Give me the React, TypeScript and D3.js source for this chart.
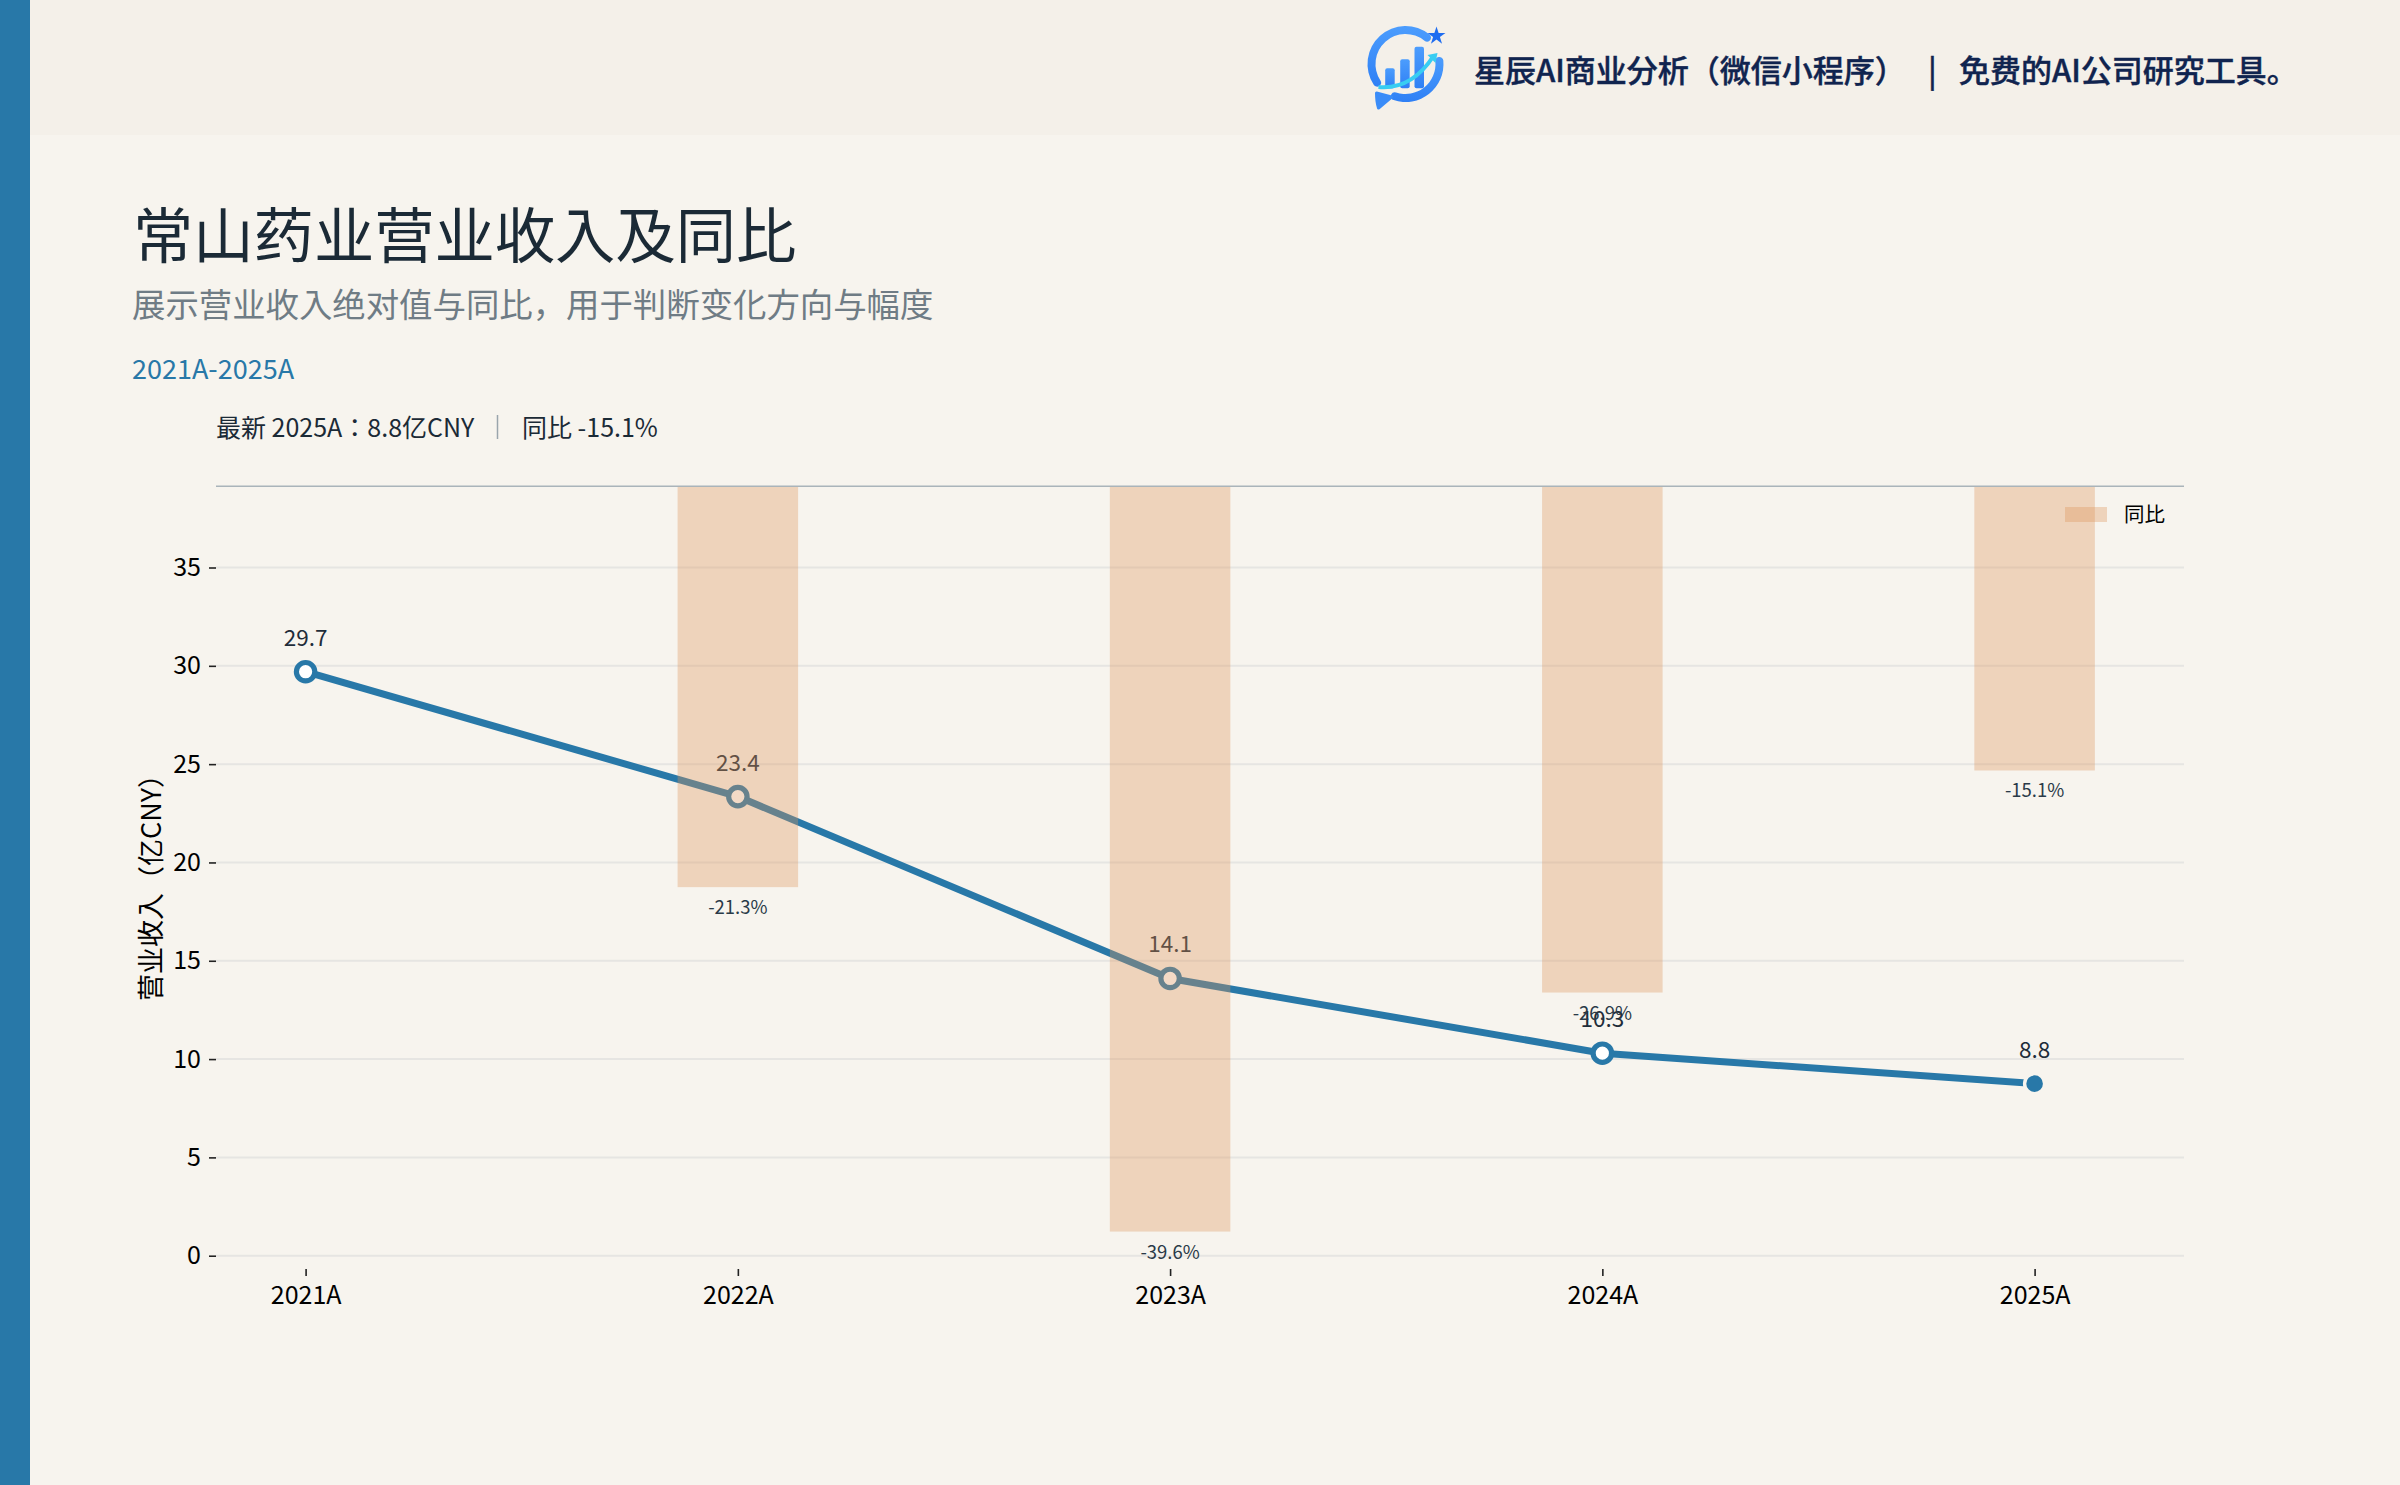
import * as d3 from "d3";
import { useEffect, useRef } from "react";

const years = ["2021A", "2022A", "2023A", "2024A", "2025A"];
const revenue = [29.7, 23.35, 14.1, 10.3, 8.75];
const yoy = [null, -21.3, -39.6, -26.9, -15.1];
const yTicks = [0, 5, 10, 15, 20, 25, 30, 35];

const FONT = "'Noto Sans CJK JP', 'Noto Sans', sans-serif";
const BG = "#f7f4ee";
const BLUE = "#2878a8";
const BAR = "#dd965c";
const BAR_ALPHA = 0.35;

export default function App() {
  const ref = useRef<SVGSVGElement | null>(null);

  useEffect(() => {
    const svg = d3.select(ref.current);
    svg.selectAll("*").remove();

    const width = 2400;
    const height = 1485;
    svg.attr("viewBox", `0 0 ${width} ${height}`).style("font-family", FONT);

    const left = 216;
    const right = 2184;
    const top = 486.3;
    const bottom = 1269;
    const barWidth = 120.5;

    const x = d3.scalePoint<string>().domain(years).range([305.6, 2034.6]);
    const y = d3.scaleLinear().domain([-0.676, 39.13]).range([bottom, top]);
    // yoy bars hang from the top of the plot on their own hidden axis
    const yBar = d3.scaleLinear().domain([0, -41.59]).range([top, bottom]);

    // page background and bands
    svg.append("rect").attr("width", width).attr("height", height).attr("fill", BG);
    svg.append("rect").attr("width", width).attr("height", 135).attr("fill", "#f4f0e9");
    svg.append("rect").attr("width", 30).attr("height", height).attr("fill", BLUE);

    // logo
    const defs = svg.append("defs");
    const grad = defs
      .append("linearGradient")
      .attr("id", "logoBlue")
      .attr("x1", 0)
      .attr("y1", 0)
      .attr("x2", 0)
      .attr("y2", 1);
    grad.append("stop").attr("offset", 0).attr("stop-color", "#4c9dfd");
    grad.append("stop").attr("offset", 1).attr("stop-color", "#2f80f5");
    const logo = svg.append("g").attr("transform", "translate(1405.5,64)");
    const ring = d3.arc().innerRadius(30).outerRadius(38).cornerRadius(4);
    [
      [-130, 46],
      [78, 205],
    ].forEach(([a, b]) => {
      logo
        .append("path")
        .attr("d", ring({ startAngle: (a * Math.PI) / 180, endAngle: (b * Math.PI) / 180 } as any) as string)
        .attr("fill", "url(#logoBlue)");
    });
    [
      [-20.3, 4.3, 20],
      [-5.3, -4.7, 29],
      [9, -17.3, 41.6],
    ].forEach(([bx, by, bh]) => {
      logo
        .append("rect")
        .attr("x", bx)
        .attr("y", by)
        .attr("width", 9.5)
        .attr("height", bh)
        .attr("rx", 2)
        .attr("fill", "url(#logoBlue)");
    });
    logo
      .append("path")
      .attr("d", "M-27,23 Q6,26 28,-8")
      .attr("fill", "none")
      .attr("stroke", "#38cdf2")
      .attr("stroke-width", 4);
    logo.append("path").attr("d", "M22,-9 L32,-11 L30,-1 Z").attr("fill", "#38cdf2");
    logo
      .append("path")
      .attr("transform", "translate(31,-28)")
      .attr("d", d3.symbol(d3.symbolStar, 100)() as string)
      .attr("fill", "#1f6df0");
    logo
      .append("path")
      .attr("d", "M-29,29 L-14,33 L-27,44 Q-29,38 -29,29 Z")
      .attr("fill", "#3a8cf8")
      .attr("stroke", "#3a8cf8")
      .attr("stroke-width", 3)
      .attr("stroke-linejoin", "round");

    // header text
    const headerText = (tx: number, s: string) =>
      svg
        .append("text")
        .attr("x", tx)
        .attr("y", 82)
        .attr("font-size", 31)
        .attr("font-weight", 500)
        .attr("fill", "#10244f")
        .attr("stroke", "#10244f")
        .attr("stroke-width", 0.4)
        .text(s);
    headerText(1474, "星辰AI商业分析（微信小程序）");
    headerText(1928, "|");
    headerText(1959, "免费的AI公司研究工具。");

    // titles
    svg.append("text").attr("x", 133).attr("y", 258).attr("font-size", 60.3).attr("fill", "#1b2a36").text("常山药业营业收入及同比");
    svg
      .append("text")
      .attr("x", 132)
      .attr("y", 317)
      .attr("font-size", 33.4)
      .attr("fill", "#6f7c85")
      .text("展示营业收入绝对值与同比，用于判断变化方向与幅度");
    svg.append("text").attr("x", 132).attr("y", 379).attr("font-size", 27).attr("fill", BLUE).text("2021A-2025A");

    // summary line
    svg.append("text").attr("x", 216).attr("y", 437).attr("font-size", 25).attr("fill", "#1b2a36").text("最新 2025A：8.8亿CNY");
    svg
      .append("line")
      .attr("x1", 497.5)
      .attr("x2", 497.5)
      .attr("y1", 415)
      .attr("y2", 439)
      .attr("stroke", "#9aa5ac")
      .attr("stroke-width", 1.5);
    svg.append("text").attr("x", 522).attr("y", 437).attr("font-size", 25).attr("fill", "#1b2a36").text("同比 -15.1%");

    // grid
    svg
      .append("g")
      .selectAll("line")
      .data(yTicks)
      .enter()
      .append("line")
      .attr("x1", left)
      .attr("x2", right)
      .attr("y1", (d) => y(d))
      .attr("y2", (d) => y(d))
      .attr("stroke", "#e6e5e2")
      .attr("stroke-width", 2);

    // axes
    const yAxis = svg
      .append("g")
      .attr("transform", `translate(${left},0)`)
      .call(d3.axisLeft(y).tickValues(yTicks).tickSize(7).tickPadding(8));
    const xAxis = svg
      .append("g")
      .attr("transform", `translate(0,${bottom})`)
      .call(d3.axisBottom(x).tickSize(7).tickPadding(10));
    [yAxis, xAxis].forEach((a) => {
      a.select(".domain").remove();
      a.selectAll("line").attr("stroke", "#222").attr("stroke-width", 1.6);
      a.selectAll("text").attr("font-size", 25).attr("font-family", FONT).attr("fill", "#000");
    });

    svg
      .append("text")
      .attr("transform", "translate(160.5,881) rotate(-90)")
      .attr("text-anchor", "middle")
      .attr("font-size", 27)
      .attr("fill", "#000")
      .text("营业收入（亿CNY）");

    // revenue line, drawn under the bars
    const line = d3
      .line<number>()
      .x((_, i) => x(years[i]) as number)
      .y((d) => y(d));
    svg
      .append("path")
      .attr("d", line(revenue) as string)
      .attr("fill", "none")
      .attr("stroke", BLUE)
      .attr("stroke-width", 7)
      .attr("stroke-linejoin", "round");

    const last = revenue.length - 1;
    svg
      .append("g")
      .selectAll("circle")
      .data(revenue)
      .enter()
      .append("circle")
      .attr("cx", (_, i) => x(years[i]) as number)
      .attr("cy", (d) => y(d))
      .attr("r", (_, i) => (i === last ? 10 : 9.2))
      .attr("fill", (_, i) => (i === last ? BLUE : "#fff"))
      .attr("stroke", (_, i) => (i === last ? BG : BLUE))
      .attr("stroke-width", (_, i) => (i === last ? 3.4 : 5.2));

    svg
      .append("g")
      .selectAll("text")
      .data(revenue)
      .enter()
      .append("text")
      .attr("x", (_, i) => x(years[i]) as number)
      .attr("y", (d) => y(d) - 26)
      .attr("text-anchor", "middle")
      .attr("font-size", 22.5)
      .attr("fill", "#1f2d3a")
      .text((d) => d.toFixed(1));

    // yoy bars
    const yoyYears = years.filter((_, i) => yoy[i] !== null);
    const yoyValues = yoy.filter((d) => d !== null) as number[];
    svg
      .append("g")
      .selectAll("rect")
      .data(yoyValues)
      .enter()
      .append("rect")
      .attr("x", (_, i) => (x(yoyYears[i]) as number) - barWidth / 2)
      .attr("y", top)
      .attr("width", barWidth)
      .attr("height", (d) => yBar(d) - top)
      .attr("fill", BAR)
      .attr("fill-opacity", BAR_ALPHA);

    svg
      .append("g")
      .selectAll("text")
      .data(yoyValues)
      .enter()
      .append("text")
      .attr("x", (_, i) => x(yoyYears[i]) as number)
      .attr("y", (d) => yBar(d) + 27)
      .attr("text-anchor", "middle")
      .attr("font-size", 18.5)
      .attr("fill", "#2a3a48")
      .text((d) => `${d.toFixed(1)}%`);

    // top rule
    svg
      .append("line")
      .attr("x1", left)
      .attr("x2", right)
      .attr("y1", top)
      .attr("y2", top)
      .attr("stroke", "#aab4ba")
      .attr("stroke-width", 1.6);

    // legend
    svg
      .append("rect")
      .attr("x", 2065)
      .attr("y", 507)
      .attr("width", 42)
      .attr("height", 15)
      .attr("fill", BAR)
      .attr("fill-opacity", BAR_ALPHA);
    svg.append("text").attr("x", 2124).attr("y", 522).attr("font-size", 20.5).attr("fill", "#000").text("同比");
  }, []);

  return <svg ref={ref} width={2400} height={1485} style={{ position: "absolute", left: 0, top: 0, display: "block" }} />;
}
